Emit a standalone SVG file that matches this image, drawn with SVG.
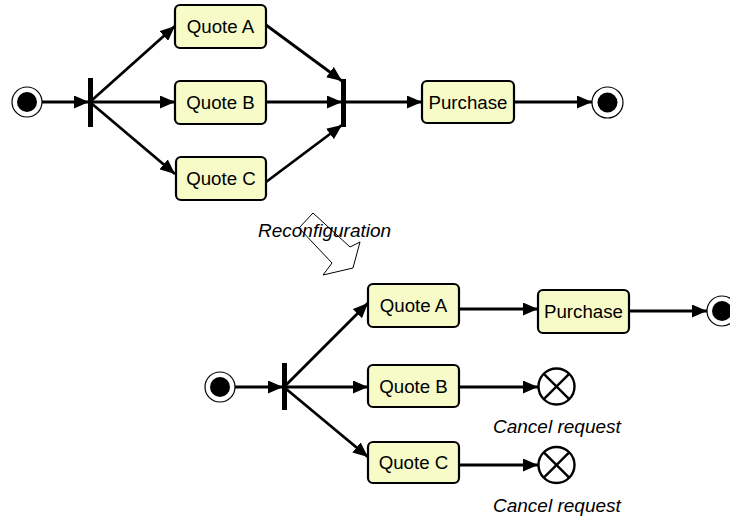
<svg xmlns="http://www.w3.org/2000/svg" width="730" height="520" viewBox="0 0 730 520">
  <style>
    .act rect { fill: #f6fbc8; stroke: #000; stroke-width: 2.2; }
    .act text { font-family: "Liberation Sans", Arial, sans-serif; font-size: 18.7px; fill: #000; text-anchor: middle; }
    .lbl { font-family: "Liberation Sans", Arial, sans-serif; font-size: 19px; font-style: italic; fill: #000; }
    .flow line { stroke: #000; stroke-width: 2.8; marker-end: url(#head); }
    .bar { fill: #000; }
    .start-ring { fill: #fff; stroke: #000; stroke-width: 1.2; }
    .dot { fill: #000; }
    .cancel circle { fill: #fff; stroke: #000; stroke-width: 2.4; }
    .cancel line { stroke: #000; stroke-width: 2.4; }
  </style>
  <defs>
    <marker id="head" viewBox="0 0 15 13" refX="15" refY="6.5" markerWidth="15" markerHeight="13" markerUnits="userSpaceOnUse" orient="auto">
      <path d="M0,0 L15,6.5 L0,13 Z" fill="#000"/>
    </marker>
  </defs>

  <!-- connectors -->
  <g id="connectors" class="flow">
    <!-- upper process -->
    <line x1="42" y1="102" x2="89" y2="102"/>
    <line x1="91" y1="101" x2="175" y2="26"/>
    <line x1="91" y1="102" x2="175" y2="102"/>
    <line x1="91" y1="103" x2="175" y2="174"/>
    <line x1="266" y1="25" x2="342" y2="81"/>
    <line x1="266" y1="102" x2="342" y2="102"/>
    <line x1="266" y1="182" x2="342" y2="125"/>
    <line x1="345" y1="102" x2="422" y2="102"/>
    <line x1="514" y1="102" x2="592" y2="102"/>
    <!-- lower process -->
    <line x1="235" y1="387" x2="283" y2="387"/>
    <line x1="285" y1="386" x2="368" y2="303"/>
    <line x1="285" y1="387" x2="368" y2="387"/>
    <line x1="285" y1="388" x2="368" y2="457"/>
    <line x1="459" y1="309" x2="538" y2="309"/>
    <line x1="629" y1="311" x2="707" y2="311"/>
    <line x1="459" y1="387" x2="538" y2="387"/>
    <line x1="459" y1="465" x2="538" y2="465"/>
  </g>

  <!-- upper process nodes -->
  <g id="start1">
    <circle class="start-ring" cx="27" cy="102" r="15"/>
    <circle class="dot" cx="27" cy="102" r="10"/>
  </g>
  <g id="fork1"><rect class="bar" x="88" y="78" width="5" height="49"/></g>
  <g id="quoteA1" class="act">
    <rect x="175" y="5" width="91" height="43" rx="5"/>
    <text x="220.5" y="33">Quote A</text>
  </g>
  <g id="quoteB1" class="act">
    <rect x="175" y="81" width="91" height="43" rx="5"/>
    <text x="220.5" y="109">Quote B</text>
  </g>
  <g id="quoteC1" class="act">
    <rect x="176" y="157" width="90" height="43" rx="5"/>
    <text x="221" y="185">Quote C</text>
  </g>
  <g id="join1"><rect class="bar" x="341" y="79" width="5" height="48"/></g>
  <g id="purchase1" class="act">
    <rect x="422" y="81" width="92" height="42" rx="5"/>
    <text x="468" y="109">Purchase</text>
  </g>
  <g id="end1">
    <circle class="start-ring" cx="607.5" cy="102.5" r="15.5"/>
    <circle class="dot" cx="607.5" cy="102.5" r="10"/>
  </g>

  <!-- transformation between the two processes -->
  <g id="reconfiguration">
    <polygon points="313,213 350,247 360,242 353,268 323,275 332,263 299,228" fill="none" stroke="#000" stroke-width="1"/>
    <text class="lbl" x="258" y="237">Reconfiguration</text>
  </g>

  <!-- lower process nodes -->
  <g id="start2">
    <circle class="start-ring" cx="220" cy="387" r="15"/>
    <circle class="dot" cx="220" cy="387" r="10"/>
  </g>
  <g id="fork2"><rect class="bar" x="282" y="363" width="5" height="47"/></g>
  <g id="quoteA2" class="act">
    <rect x="368" y="284" width="91" height="43" rx="5"/>
    <text x="413.5" y="312">Quote A</text>
  </g>
  <g id="quoteB2" class="act">
    <rect x="368" y="365" width="91" height="42" rx="5"/>
    <text x="413.5" y="393">Quote B</text>
  </g>
  <g id="quoteC2" class="act">
    <rect x="368" y="442" width="91" height="41" rx="5"/>
    <text x="413.5" y="469">Quote C</text>
  </g>
  <g id="purchase2" class="act">
    <rect x="538" y="290" width="91" height="43" rx="5"/>
    <text x="583.5" y="318">Purchase</text>
  </g>
  <g id="end2">
    <circle class="start-ring" cx="722" cy="311" r="15"/>
    <circle class="dot" cx="722" cy="311" r="10"/>
  </g>
  <g id="cancelB" class="cancel">
    <circle cx="556.5" cy="386.5" r="18"/>
    <line x1="543.8" y1="373.8" x2="569.2" y2="399.2"/>
    <line x1="569.2" y1="373.8" x2="543.8" y2="399.2"/>
    <text class="lbl" x="493" y="433">Cancel request</text>
  </g>
  <g id="cancelC" class="cancel">
    <circle cx="556.5" cy="465" r="18"/>
    <line x1="543.8" y1="452.3" x2="569.2" y2="477.7"/>
    <line x1="569.2" y1="452.3" x2="543.8" y2="477.7"/>
    <text class="lbl" x="493" y="511.5">Cancel request</text>
  </g>
</svg>
